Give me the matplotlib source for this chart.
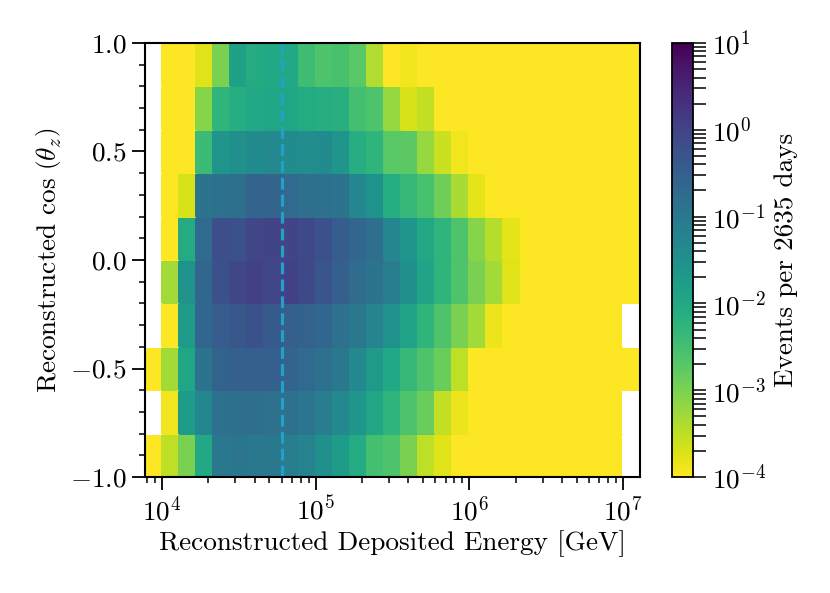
import numpy as np
import matplotlib
matplotlib.use("Agg")
import matplotlib.pyplot as plt
from matplotlib.colors import LogNorm
from matplotlib.ticker import MultipleLocator, LogLocator, NullFormatter, FormatStrFormatter

plt.rcParams.update({
    "font.family": "serif",
    "font.serif": ["cmr10"],
    "mathtext.fontset": "cm",
    "axes.formatter.use_mathtext": True,
    "font.size": 19.6,
})

# bin edges: 9 log bins per decade, cos(zenith) in 0.2 steps
energy_edges = 10 ** (np.arange(35, 65) / 9.0)
cos_edges = np.linspace(-1.0, 1.0, 11)
marker_energy = 6.0e4

E = None      # empty bin (no events)
Y = -4.5      # below colour-scale minimum

# log10(events per 2635 days), one list per cos(zenith) band, top band first
row_080_100 = [E, Y, Y, -3.75, -3.0, -1.85, -2.05, -2.0, -2.0, -2.45, -2.6, -2.55, -2.7, -3.4, Y, -3.9, Y, Y, Y, Y, Y, Y, Y, Y, Y, Y, Y, Y, Y]
row_060_080 = [E, Y, Y, -3.1, -2.25, -2.1, -2.0, -1.95, -1.95, -2.05, -2.1, -2.15, -2.5, -2.6, -3.2, -3.7, -3.55, Y, Y, Y, Y, Y, Y, Y, Y, Y, Y, Y, Y]
row_040_060 = [E, Y, Y, -2.4, -1.6, -1.5, -1.4, -1.35, -1.4, -1.45, -1.4, -1.6, -2.1, -2.25, -2.7, -2.75, -3.2, -3.6, -3.9, Y, Y, Y, Y, Y, Y, Y, Y, Y, Y]
row_020_040 = [E, Y, -3.7, -0.9, -0.85, -0.8, -0.6, -0.6, -0.7, -0.8, -0.85, -0.9, -1.3, -1.55, -2.1, -2.35, -2.55, -2.9, -3.35, -3.8, Y, Y, Y, Y, Y, Y, Y, Y, Y]
row_000_020 = [E, Y, -2.05, -0.7, -0.2, -0.25, -0.05, 0.0, 0.0, -0.1, -0.25, -0.45, -0.65, -0.8, -1.3, -1.6, -2.0, -2.25, -2.6, -3.1, -3.45, -3.8, Y, Y, Y, Y, Y, Y, Y]
row_m020_000 = [E, -3.3, -1.55, -0.65, -0.25, -0.05, 0.05, -0.05, 0.05, -0.1, -0.3, -0.5, -0.75, -0.9, -1.1, -1.5, -1.9, -2.25, -2.6, -3.0, -3.3, -3.75, Y, Y, Y, Y, Y, Y, Y]
row_m040_m020 = [E, Y, -1.75, -0.65, -0.45, -0.35, -0.25, -0.4, -0.5, -0.55, -0.65, -0.85, -1.0, -1.25, -1.55, -1.9, -2.25, -2.6, -3.0, -3.3, -3.85, Y, Y, Y, Y, Y, Y, Y, E]
row_m060_m040 = [Y, -3.3, -1.95, -0.9, -0.55, -0.5, -0.5, -0.5, -0.6, -0.7, -0.85, -1.0, -1.35, -1.7, -2.0, -2.35, -2.6, -2.85, -3.5, Y, Y, Y, Y, Y, Y, Y, Y, Y, Y]
row_m080_m060 = [E, -3.9, -1.75, -1.3, -0.85, -0.8, -0.8, -0.85, -0.85, -0.95, -1.1, -1.35, -1.6, -1.95, -2.25, -2.6, -2.85, -3.55, -3.85, Y, Y, Y, Y, Y, Y, Y, Y, Y, E]
row_m100_m080 = [Y, -3.5, -3.0, -2.0, -1.0, -0.95, -1.0, -1.0, -1.1, -1.2, -1.5, -1.75, -2.05, -2.5, -2.6, -3.0, -3.5, -3.75, Y, Y, Y, Y, Y, Y, Y, Y, Y, Y, E]

rows_top_first = [row_080_100, row_060_080, row_040_060, row_020_040, row_000_020,
                  row_m020_000, row_m040_m020, row_m060_m040, row_m080_m060, row_m100_m080]

logv = np.array([[np.nan if v is None else v for v in r] for r in rows_top_first[::-1]], dtype=float)
counts = np.ma.masked_invalid(10.0 ** logv)

fig = plt.figure(figsize=(8.30, 5.93), dpi=100)
ax = fig.add_axes([0.1747, 0.1956, 0.7711 - 0.1747, 0.9275 - 0.1956])
cax = fig.add_axes([0.8096, 0.1956, 0.8349 - 0.8096, 0.9275 - 0.1956])

cmap = plt.get_cmap("viridis_r").copy()
cmap.set_bad("white")
norm = LogNorm(vmin=1e-4, vmax=1e1)
mesh = ax.pcolormesh(energy_edges, cos_edges, counts, cmap=cmap, norm=norm,
                     edgecolor="face", linewidth=0.3)
ax.axvline(marker_energy, color="#21a1c9", ls="--", lw=2.3)

ax.set_xscale("log")
ax.set_xlim(energy_edges[0], energy_edges[-1])
ax.set_ylim(-1.0, 1.0)
ax.yaxis.set_major_locator(MultipleLocator(0.5))
ax.yaxis.set_minor_locator(MultipleLocator(0.1))
ax.yaxis.set_major_formatter(FormatStrFormatter(r"$%.1f$"))
ax.xaxis.set_major_locator(LogLocator(base=10, numticks=10))
ax.xaxis.set_minor_locator(LogLocator(base=10, subs=np.arange(2, 10), numticks=20))
ax.xaxis.set_minor_formatter(NullFormatter())
ax.tick_params(which="major", length=9.4, width=1.3, pad=4)
ax.tick_params(which="minor", length=4.6, width=1.1)
for s in ax.spines.values():
    s.set_linewidth(1.5)

ax.set_xlabel("Reconstructed Deposited Energy [GeV]", labelpad=3)
ax.set_ylabel(r"Reconstructed $\cos\,\left(\theta_z\right)$", labelpad=5)

cb = fig.colorbar(mesh, cax=cax)
cb.set_label("Events per 2635 days", labelpad=6)
cb.ax.tick_params(which="both", length=9.4, width=1.1, pad=4)
cb.outline.set_linewidth(1.3)

fig.savefig("out.png", dpi=100)
